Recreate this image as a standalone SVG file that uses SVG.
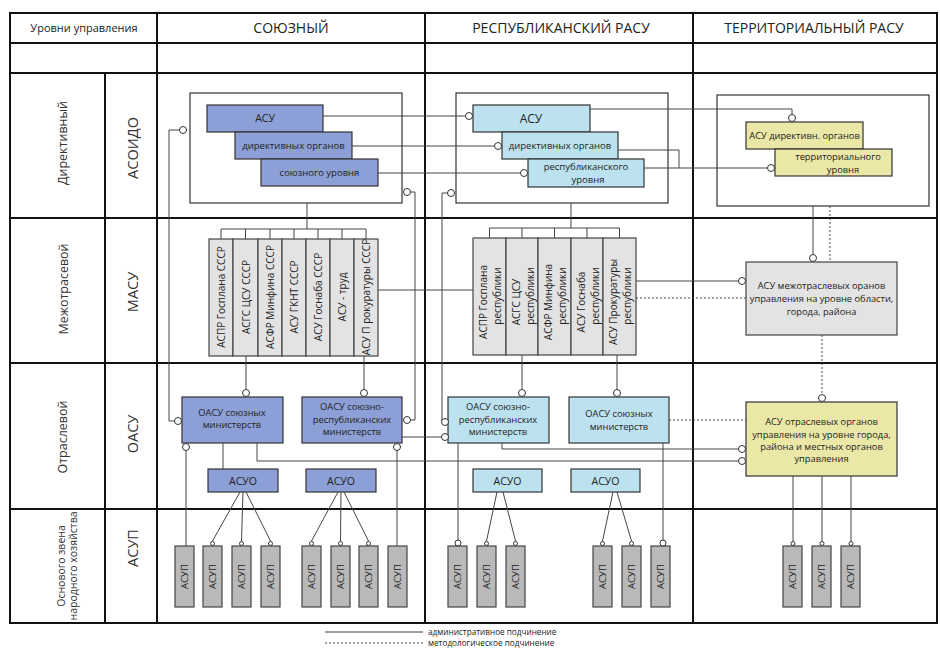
<svg xmlns="http://www.w3.org/2000/svg" width="940" height="655" viewBox="0 0 940 655">
<style>
text{font-family:"Open Sans","Liberation Sans",sans-serif;fill:#222}
.tbl{stroke:#111;stroke-width:2;fill:none}
.frame{fill:none;stroke:#333;stroke-width:1.2}
.bu{fill:#8d9fd7;stroke:#333;stroke-width:1.2}
.br{fill:#bde2ef;stroke:#333;stroke-width:1.2}
.by{fill:#ebe8a7;stroke:#333;stroke-width:1.2}
.bg{fill:#e3e3e3;stroke:#444;stroke-width:1.2}
.bp{fill:#b9b9b9;stroke:#444;stroke-width:1.2}
.ln{stroke:#444;stroke-width:1;fill:none}
.dl{stroke:#444;stroke-width:1;fill:none;stroke-dasharray:2 2}
.c{fill:#fff;stroke:#333;stroke-width:1}
.m{text-anchor:middle}
.v{text-anchor:middle;dominant-baseline:central}
.lab{fill:#333}
</style>

<g id="table">
<rect class="tbl" x="10" y="13" width="927" height="610"/>
<path class="tbl" d="M10,43H937M10,73H937M10,218H937M10,363H937M10,509H937M157,13V623M425,13V623M693,13V623M105,73V623"/>
<text class="m" x="84" y="32" font-size="11">Уровни управления</text>
<text class="m" x="291" y="33" font-size="14">СОЮЗНЫЙ</text>
<text class="m" x="561" y="33" font-size="14">РЕСПУБЛИКАНСКИЙ РАСУ</text>
<text class="m" x="814" y="33" font-size="14">ТЕРРИТОРИАЛЬНЫЙ РАСУ</text>
<text class="v lab" font-size="12.5" transform="translate(62,143) rotate(-90)">Директивный</text>
<text class="v lab" font-size="14.5" transform="translate(132,148) rotate(-90)">АСОИДО</text>
<text class="v lab" font-size="12.5" transform="translate(63,289) rotate(-90)">Межотрасевой</text>
<text class="v lab" font-size="14.5" transform="translate(132,292) rotate(-90)">МАСУ</text>
<text class="v lab" font-size="12.5" transform="translate(62,437) rotate(-90)">Отраслевой</text>
<text class="v lab" font-size="14.5" transform="translate(132,434) rotate(-90)">ОАСУ</text>
<text class="v lab" font-size="10.5" transform="translate(61,566) rotate(-90)">Основого звена</text>
<text class="v lab" font-size="10.5" transform="translate(73,566) rotate(-90)">народного хозяйства</text>
<text class="v lab" font-size="14.5" transform="translate(132,548) rotate(-90)">АСУП</text>
</g>

<g id="union-directive">
<rect class="frame" x="190" y="93" width="212" height="110"/>
<rect class="bu" x="207" y="105" width="116" height="27"/>
<rect class="bu" x="235" y="132" width="117" height="27"/>
<rect class="bu" x="261" y="159" width="117" height="27"/>
<text class="m" x="265" y="122" font-size="10.5">АСУ</text>
<text class="m" x="293.5" y="149" font-size="9.5">директивных органов</text>
<text class="m" x="319.5" y="176" font-size="9.5">союзного уровня</text>
</g>

<g id="rep-directive">
<rect class="frame" x="456" y="93" width="212" height="110"/>
<rect class="br" x="473" y="105" width="117" height="27"/>
<rect class="br" x="502" y="132" width="116" height="27"/>
<rect class="br" x="528" y="159" width="116" height="28"/>
<text class="m" x="531" y="123" font-size="12">АСУ</text>
<text class="m" x="560" y="149" font-size="9.5">директивных органов</text>
<text class="m" x="586" y="170" font-size="9.5">республиканского</text>
<text class="m" x="588" y="183" font-size="9.5">уровня</text>
</g>

<g id="terr-directive">
<rect class="frame" x="717" y="95" width="212" height="111"/>
<rect class="by" x="746" y="122" width="117" height="27"/>
<rect class="by" x="775" y="149" width="117" height="27"/>
<text class="m" x="804.5" y="139" font-size="9.3">АСУ директивн. органов</text>
<text class="m" x="838" y="160" font-size="9.3">территориального</text>
<text class="m" x="843" y="173" font-size="9.3">уровня</text>
</g>

<g id="union-masu">
<rect class="bg" x="209" y="239" width="24" height="117"/>
<rect class="bg" x="233" y="239" width="25" height="117"/>
<rect class="bg" x="258" y="239" width="24" height="117"/>
<rect class="bg" x="282" y="239" width="24" height="117"/>
<rect class="bg" x="306" y="239" width="24" height="117"/>
<rect class="bg" x="330" y="239" width="24" height="117"/>
<rect class="bg" x="354" y="239" width="24" height="117"/>
<text class="v" font-size="10" transform="translate(221,297) rotate(-90)">АСПР Госплана СССР</text>
<text class="v" font-size="10" transform="translate(245.5,297) rotate(-90)">АСГС ЦСУ СССР</text>
<text class="v" font-size="10" transform="translate(270,297) rotate(-90)">АСФР Минфина СССР</text>
<text class="v" font-size="10" transform="translate(294,297) rotate(-90)">АСУ  ГКНТ СССР</text>
<text class="v" font-size="10" transform="translate(318,297) rotate(-90)">АСУ Госнаба СССР</text>
<text class="v" font-size="10" transform="translate(342,297) rotate(-90)">АСУ - труд</text>
<text class="v" font-size="10" transform="translate(366,297) rotate(-90)">АСУ П рокуратуры СССР</text>
</g>

<g id="rep-masu">
<rect class="bg" x="473" y="238" width="33" height="117"/>
<rect class="bg" x="506" y="238" width="32" height="117"/>
<rect class="bg" x="538" y="238" width="33" height="117"/>
<rect class="bg" x="571" y="238" width="32" height="117"/>
<rect class="bg" x="603" y="238" width="33" height="117"/>
<text class="v" font-size="10" transform="translate(483,302) rotate(-90)">АСПР Госплана</text>
<text class="v" font-size="10" transform="translate(497,296) rotate(-90)">республики</text>
<text class="v" font-size="10" transform="translate(516,302) rotate(-90)">АСГС ЦСУ</text>
<text class="v" font-size="10" transform="translate(530,296) rotate(-90)">республики</text>
<text class="v" font-size="10" transform="translate(548,302) rotate(-90)">АСФР Минфина</text>
<text class="v" font-size="10" transform="translate(562,296) rotate(-90)">республики</text>
<text class="v" font-size="10" transform="translate(581,302) rotate(-90)">АСУ Госнаба</text>
<text class="v" font-size="10" transform="translate(595,296) rotate(-90)">республики</text>
<text class="v" font-size="10" transform="translate(613,302) rotate(-90)">АСУ Прокуратуры</text>
<text class="v" font-size="10" transform="translate(627,296) rotate(-90)">республики</text>
</g>

<g id="terr-masu">
<rect class="bg" x="746" y="262" width="151" height="73"/>
<text class="m" x="821.5" y="289" font-size="9.3">АСУ межотраслевых оранов</text>
<text class="m" x="821.5" y="302" font-size="9.3">управления на уровне области,</text>
<text class="m" x="821.5" y="315" font-size="9.3">города, района</text>
</g>

<g id="union-oasu-1">
<rect class="bu" x="182" y="397" width="101" height="46"/>
<text class="m" x="232" y="416" font-size="9.3">ОАСУ союзных</text>
<text class="m" x="232" y="428" font-size="9.3">министерств</text>
</g>
<g id="union-oasu-2">
<rect class="bu" x="302" y="397" width="100" height="46"/>
<text class="m" x="352" y="410" font-size="9.3">ОАСУ союзно-</text>
<text class="m" x="352" y="423" font-size="9.3">республиканских</text>
<text class="m" x="352" y="435" font-size="9.3">министерств</text>
</g>
<g id="union-asuo-1">
<rect class="bu" x="208" y="469" width="70" height="23"/>
<text class="m" x="243" y="485" font-size="10.5">АСУО</text>
</g>
<g id="union-asuo-2">
<rect class="bu" x="306" y="469" width="70" height="23"/>
<text class="m" x="341" y="485" font-size="10.5">АСУО</text>
</g>

<g id="rep-oasu-1">
<rect class="br" x="448" y="397" width="101" height="46"/>
<text class="m" x="498" y="410" font-size="9.3">ОАСУ союзно-</text>
<text class="m" x="498" y="423" font-size="9.3">республиканских</text>
<text class="m" x="498" y="435" font-size="9.3">министерств</text>
</g>
<g id="rep-oasu-2">
<rect class="br" x="569" y="397" width="100" height="46"/>
<text class="m" x="619" y="417" font-size="9.3">ОАСУ союзных</text>
<text class="m" x="619" y="430" font-size="9.3">министерств</text>
</g>
<g id="rep-asuo-1">
<rect class="br" x="473" y="469" width="69" height="23"/>
<text class="m" x="507.5" y="485" font-size="10.5">АСУО</text>
</g>
<g id="rep-asuo-2">
<rect class="br" x="571" y="469" width="69" height="23"/>
<text class="m" x="605.5" y="485" font-size="10.5">АСУО</text>
</g>

<g id="terr-oasu">
<rect class="by" x="746" y="402" width="151" height="74"/>
<text class="m" x="821.5" y="425" font-size="9.3">АСУ отраслевых органов</text>
<text class="m" x="821.5" y="438" font-size="9.3">управления на уровне города,</text>
<text class="m" x="821.5" y="450" font-size="9.3">района и местных органов</text>
<text class="m" x="821.5" y="462" font-size="9.3">управления</text>
</g>

<g id="asup">
<g id="asup-1"><rect class="bp" x="175" y="546" width="19" height="61"/><text class="v" font-size="9.5" transform="translate(184.5,576.5) rotate(-90)">АСУП</text></g>
<g id="asup-2"><rect class="bp" x="203" y="546" width="19" height="61"/><text class="v" font-size="9.5" transform="translate(212.5,576.5) rotate(-90)">АСУП</text></g>
<g id="asup-3"><rect class="bp" x="232" y="546" width="19" height="61"/><text class="v" font-size="9.5" transform="translate(241.5,576.5) rotate(-90)">АСУП</text></g>
<g id="asup-4"><rect class="bp" x="261" y="546" width="19" height="61"/><text class="v" font-size="9.5" transform="translate(270.5,576.5) rotate(-90)">АСУП</text></g>
<g id="asup-5"><rect class="bp" x="302" y="546" width="19" height="61"/><text class="v" font-size="9.5" transform="translate(311.5,576.5) rotate(-90)">АСУП</text></g>
<g id="asup-6"><rect class="bp" x="331" y="546" width="19" height="61"/><text class="v" font-size="9.5" transform="translate(340.5,576.5) rotate(-90)">АСУП</text></g>
<g id="asup-7"><rect class="bp" x="359" y="546" width="19" height="61"/><text class="v" font-size="9.5" transform="translate(368.5,576.5) rotate(-90)">АСУП</text></g>
<g id="asup-8"><rect class="bp" x="388" y="546" width="19" height="61"/><text class="v" font-size="9.5" transform="translate(397.5,576.5) rotate(-90)">АСУП</text></g>
<g id="asup-9"><rect class="bp" x="448" y="546" width="19" height="61"/><text class="v" font-size="9.5" transform="translate(457.5,576.5) rotate(-90)">АСУП</text></g>
<g id="asup-10"><rect class="bp" x="477" y="546" width="19" height="61"/><text class="v" font-size="9.5" transform="translate(486.5,576.5) rotate(-90)">АСУП</text></g>
<g id="asup-11"><rect class="bp" x="506" y="546" width="19" height="61"/><text class="v" font-size="9.5" transform="translate(515.5,576.5) rotate(-90)">АСУП</text></g>
<g id="asup-12"><rect class="bp" x="593" y="546" width="19" height="61"/><text class="v" font-size="9.5" transform="translate(602.5,576.5) rotate(-90)">АСУП</text></g>
<g id="asup-13"><rect class="bp" x="622" y="546" width="19" height="61"/><text class="v" font-size="9.5" transform="translate(631.5,576.5) rotate(-90)">АСУП</text></g>
<g id="asup-14"><rect class="bp" x="651" y="546" width="19" height="61"/><text class="v" font-size="9.5" transform="translate(660.5,576.5) rotate(-90)">АСУП</text></g>
<g id="asup-15"><rect class="bp" x="783" y="546" width="19" height="61"/><text class="v" font-size="9.5" transform="translate(792.5,576.5) rotate(-90)">АСУП</text></g>
<g id="asup-16"><rect class="bp" x="812" y="546" width="19" height="61"/><text class="v" font-size="9.5" transform="translate(821.5,576.5) rotate(-90)">АСУП</text></g>
<g id="asup-17"><rect class="bp" x="841" y="546" width="19" height="61"/><text class="v" font-size="9.5" transform="translate(850.5,576.5) rotate(-90)">АСУП</text></g>
</g>

<g id="connectors">
<path class="ln" d="M323,116H465.5M352,146H494.5M378,173H520.5"/>
<path class="ln" d="M179.5,130H169V421H174.5"/>
<path class="ln" d="M410.5,192H415V420H410.5"/>
<path class="ln" d="M447.5,193H442V422H441.5"/>
<path class="ln" d="M402,437H441.5"/>
<path class="ln" d="M257,443V461H738.5"/>
<path class="ln" d="M502,443V449H738.5"/>
<path class="dl" d="M669,420H746"/>
<path class="ln" d="M307,203V229M221,229H366M221,229V239M245.5,229V239M270,229V239M294,229V239M318,229V239M342,229V239M366,229V239"/>
<path class="ln" d="M378,290H473"/>
<path class="ln" d="M246,356V389.5M364,356V389.5"/>
<path class="ln" d="M571,203V228M489.5,228H619.5M489.5,228V238M522,228V238M554.5,228V238M587,228V238M619.5,228V238"/>
<path class="ln" d="M636,281H738.5"/>
<path class="dl" d="M636,298H746"/>
<path class="ln" d="M522,355V389.5M617,355V389.5"/>
<path class="ln" d="M813,206V254.5"/>
<path class="dl" d="M830,206V262"/>
<path class="dl" d="M822,335V394.5"/>
<path class="ln" d="M590,109H792V114.5"/>
<path class="ln" d="M618,150H679V168"/>
<path class="ln" d="M644,168H767.5"/>
<path class="ln" d="M186,450V546"/>
<path class="ln" d="M223,443V469"/>
<path class="ln" d="M240,492L212.5,541M243,492L241.5,541M246,492L270.5,541"/>
<path class="ln" d="M397,450V546"/>
<path class="ln" d="M338,492L311.5,541M341,492L340.5,541M344,492L368.5,541"/>
<path class="ln" d="M458,443V540"/>
<path class="ln" d="M497,492L486.5,541M503,492L515.5,541"/>
<path class="ln" d="M613,492L602.5,541M617,492L631.5,541"/>
<path class="ln" d="M663,443V540"/>
<path class="ln" d="M793,476V541M822,476V541M851,476V541"/>
<circle class="c" cx="469" cy="116" r="3.5"/>
<circle class="c" cx="498" cy="146" r="3.5"/>
<circle class="c" cx="524" cy="173" r="3.5"/>
<circle class="c" cx="183" cy="130" r="3.5"/>
<circle class="c" cx="178" cy="421" r="3.5"/>
<circle class="c" cx="407" cy="192" r="3.5"/>
<circle class="c" cx="407" cy="420" r="3.5"/>
<circle class="c" cx="451" cy="193" r="3.5"/>
<circle class="c" cx="445" cy="422" r="3.5"/>
<circle class="c" cx="445" cy="437" r="3.5"/>
<circle class="c" cx="742" cy="461" r="3.5"/>
<circle class="c" cx="742" cy="449" r="3.5"/>
<circle class="c" cx="246" cy="393" r="3.5"/>
<circle class="c" cx="364" cy="393" r="3.5"/>
<circle class="c" cx="742" cy="281" r="3.5"/>
<circle class="c" cx="522" cy="393" r="3.5"/>
<circle class="c" cx="617" cy="393" r="3.5"/>
<circle class="c" cx="813" cy="258" r="3.5"/>
<circle class="c" cx="822" cy="398" r="3.5"/>
<circle class="c" cx="792" cy="118" r="3.5"/>
<circle class="c" cx="771" cy="168" r="3.5"/>
<circle class="c" cx="186" cy="447" r="3.5"/>
<circle class="c" cx="397" cy="447" r="3.5"/>
<circle class="c" cx="458" cy="543" r="3"/>
<circle class="c" cx="663" cy="543" r="3"/>
<circle class="c" cx="212.5" cy="543.5" r="2"/>
<circle class="c" cx="241.5" cy="543.5" r="2"/>
<circle class="c" cx="270.5" cy="543.5" r="2"/>
<circle class="c" cx="311.5" cy="543.5" r="2"/>
<circle class="c" cx="340.5" cy="543.5" r="2"/>
<circle class="c" cx="368.5" cy="543.5" r="2"/>
<circle class="c" cx="486.5" cy="543.5" r="2"/>
<circle class="c" cx="515.5" cy="543.5" r="2"/>
<circle class="c" cx="602.5" cy="543.5" r="2"/>
<circle class="c" cx="631.5" cy="543.5" r="2"/>
<circle class="c" cx="793" cy="543.5" r="2"/>
<circle class="c" cx="822" cy="543.5" r="2"/>
<circle class="c" cx="851" cy="543.5" r="2"/>
</g>

<g id="legend">
<path class="ln" d="M325,632H423"/>
<path class="dl" d="M325,643H423"/>
<text x="428" y="635" font-size="8.2">административное подчинение</text>
<text x="428" y="646" font-size="8.2">методологическое подчинение</text>
</g>
</svg>
